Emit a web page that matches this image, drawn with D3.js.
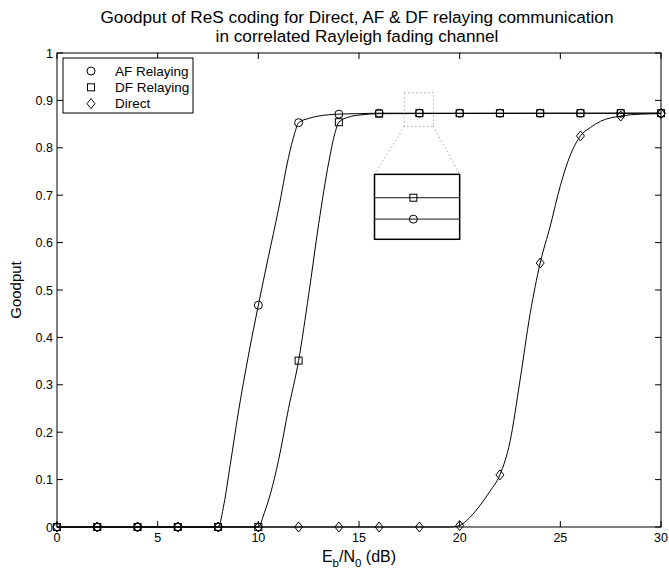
<!DOCTYPE html>
<html><head><meta charset="utf-8">
<script src="https://cdn.jsdelivr.net/npm/d3@7/dist/d3.min.js"></script>
<style>
html,body{margin:0;padding:0;background:#fff;}
svg{display:block;}
text{font-family:"Liberation Sans",Arial,Helvetica,sans-serif;fill:#000;}
</style></head>
<body>
<svg id="chart" width="669" height="571"></svg>
<script>
// ---- data ----
const titleLines = ["Goodput of ReS coding for Direct, AF & DF relaying communication",
                    "in correlated Rayleigh fading channel"];
const seriesNames = ["AF Relaying", "DF Relaying", "Direct"];
const xTicks = [0, 5, 10, 15, 20, 25, 30];
const yTicks = [0, 0.1, 0.2, 0.3, 0.4, 0.5, 0.6, 0.7, 0.8, 0.9, 1];
const yTickLabels = ["0", "0.1", "0.2", "0.3", "0.4", "0.5", "0.6", "0.7", "0.8", "0.9", "1"];

// marker samples (every 2 dB)
const snrMarkers = [0, 2, 4, 6, 8, 10, 12, 14, 16, 18, 20, 22, 24, 26, 28, 30];
const afMarkers = [0, 0, 0, 0, 0, 0.468, 0.853, 0.871, 0.873, 0.873, 0.873, 0.873, 0.873, 0.873, 0.873, 0.873];
const dfMarkers = [0, 0, 0, 0, 0, 0, 0.351, 0.854, 0.872, 0.873, 0.873, 0.873, 0.873, 0.873, 0.873, 0.873];
const directMarkers = [0, 0, 0, 0, 0, 0, 0, 0, 0, 0, 0.003, 0.11, 0.557, 0.825, 0.867, 0.872];

// curve samples
const afCurveSnr = [0, 8, 8.3, 8.6, 9, 9.5, 10, 10.5, 11, 11.5, 11.8, 12, 12.5, 13, 14, 15, 16, 30];
const afCurve    = [0, 0, 0.05, 0.13, 0.24, 0.36, 0.468, 0.57, 0.67, 0.78, 0.83, 0.853, 0.862, 0.867, 0.871, 0.872, 0.873, 0.873];
const dfCurveSnr = [0, 10, 10.3, 10.6, 11, 11.5, 12, 12.5, 13, 13.5, 13.8, 14, 14.5, 15, 16, 30];
const dfCurve    = [0, 0, 0.03, 0.07, 0.14, 0.25, 0.351, 0.49, 0.64, 0.77, 0.83, 0.854, 0.865, 0.869, 0.872, 0.873];
const directCurveSnr = [0, 19.5, 20, 20.5, 21, 21.5, 22, 22.5, 23, 23.5, 24, 24.5, 25, 25.5, 26, 26.5, 27, 28, 29, 30];
const directCurve    = [0, 0, 0.003, 0.02, 0.045, 0.075, 0.11, 0.18, 0.31, 0.45, 0.557, 0.635, 0.72, 0.785, 0.825, 0.843, 0.856, 0.867, 0.871, 0.872];

// zoom annotation (data coords) and magnified inset values
const zoomWindowX = [17.25, 18.7];
const zoomWindowY = [0.845, 0.916];
const insetBoxX = [15.77, 20.0];
const insetBoxY = [0.607, 0.744];
const insetDomain = [0.872, 0.874];
const insetMarkerX = 17.7;
const insetDF = 0.87328;
const insetAF = 0.87262;

// ---- drawing ----
const svg = d3.select("#chart");
const m = {left: 57, right: 661, top: 53, bottom: 527};
const x = d3.scaleLinear().domain([0, 30]).range([m.left, m.right]);
const y = d3.scaleLinear().domain([0, 1]).range([m.bottom, m.top]);

// title
svg.append("g").selectAll("text").data(titleLines).join("text")
  .attr("x", (m.left + m.right) / 2 - 2)
  .attr("y", (d, i) => 22.5 + i * 19.3)
  .attr("text-anchor", "middle")
  .attr("font-size", 17.2)
  .text(d => d);

// curves
const line = d3.line().x(d => x(d[0])).y(d => y(d[1])).curve(d3.curveMonotoneX);
const curves = [
  d3.zip(afCurveSnr, afCurve),
  d3.zip(dfCurveSnr, dfCurve),
  d3.zip(directCurveSnr, directCurve)
];
svg.append("g").selectAll("path").data(curves).join("path")
  .attr("d", line).attr("fill", "none").attr("stroke", "#000").attr("stroke-width", 1);

// markers
const sym = {
  circle: (g, cx, cy) => g.append("circle").attr("cx", cx).attr("cy", cy).attr("r", 4),
  square: (g, cx, cy) => g.append("rect").attr("x", cx - 3.5).attr("y", cy - 3.5).attr("width", 7).attr("height", 7),
  diamond: (g, cx, cy) => g.append("path").attr("d", `M${cx},${cy - 5}L${cx + 4},${cy}L${cx},${cy + 5}L${cx - 4},${cy}Z`)
};
const markerSets = [
  {vals: afMarkers, shape: "circle"},
  {vals: dfMarkers, shape: "square"},
  {vals: directMarkers, shape: "diamond"}
];
const mg = svg.append("g").attr("fill", "none").attr("stroke", "#000").attr("stroke-width", 1);
markerSets.forEach(s => {
  snrMarkers.forEach((v, i) => sym[s.shape](mg, x(v), y(s.vals[i])));
});

// axes box with inward ticks
const ax = svg.append("g");
ax.append("rect").attr("x", m.left).attr("y", m.top)
  .attr("width", m.right - m.left).attr("height", m.bottom - m.top)
  .attr("fill", "none").attr("stroke", "#000").attr("stroke-width", 1);
const tl = 6;
xTicks.forEach(t => {
  ax.append("line").attr("x1", x(t)).attr("x2", x(t)).attr("y1", m.bottom).attr("y2", m.bottom - tl).attr("stroke", "#000");
  ax.append("line").attr("x1", x(t)).attr("x2", x(t)).attr("y1", m.top).attr("y2", m.top + tl).attr("stroke", "#000");
  ax.append("text").attr("x", x(t)).attr("y", m.bottom + 15).attr("text-anchor", "middle")
    .attr("font-size", 12.5).text(t);
});
yTicks.forEach((t, i) => {
  ax.append("line").attr("y1", y(t)).attr("y2", y(t)).attr("x1", m.left).attr("x2", m.left + tl).attr("stroke", "#000");
  ax.append("line").attr("y1", y(t)).attr("y2", y(t)).attr("x1", m.right).attr("x2", m.right - tl).attr("stroke", "#000");
  ax.append("text").attr("x", m.left - 4).attr("y", y(t) + 4.5).attr("text-anchor", "end")
    .attr("font-size", 12.5).text(yTickLabels[i]);
});

// axis labels
const xl = svg.append("text").attr("x", (m.left + m.right) / 2).attr("y", 562)
  .attr("text-anchor", "middle").attr("font-size", 16);
xl.append("tspan").text("E");
xl.append("tspan").attr("font-size", 11.5).attr("dy", 5).text("b");
xl.append("tspan").attr("dy", -5).text("/N");
xl.append("tspan").attr("font-size", 11.5).attr("dy", 5).text("0");
xl.append("tspan").attr("dy", -5).text(" (dB)");
svg.append("text").attr("transform", `translate(21,${(m.top + m.bottom) / 2}) rotate(-90)`)
  .attr("text-anchor", "middle").attr("font-size", 15).text("Goodput");

// zoom annotation
const zg = svg.append("g");
zg.append("rect").attr("x", x(zoomWindowX[0])).attr("y", y(zoomWindowY[1]))
  .attr("width", x(zoomWindowX[1]) - x(zoomWindowX[0])).attr("height", y(zoomWindowY[0]) - y(zoomWindowY[1]))
  .attr("fill", "none").attr("stroke", "#888").attr("stroke-dasharray", "1,3");
zg.append("line").attr("x1", x(zoomWindowX[0])).attr("y1", y(zoomWindowY[0]))
  .attr("x2", x(insetBoxX[0])).attr("y2", y(insetBoxY[1]))
  .attr("stroke", "#888").attr("stroke-dasharray", "1,3");
zg.append("line").attr("x1", x(zoomWindowX[1])).attr("y1", y(zoomWindowY[0]))
  .attr("x2", x(insetBoxX[1])).attr("y2", y(insetBoxY[1]))
  .attr("stroke", "#888").attr("stroke-dasharray", "1,3");
const iy = d3.scaleLinear().domain(insetDomain).range([y(insetBoxY[0]), y(insetBoxY[1])]);
zg.append("rect").attr("x", x(insetBoxX[0])).attr("y", y(insetBoxY[1]))
  .attr("width", x(insetBoxX[1]) - x(insetBoxX[0])).attr("height", y(insetBoxY[0]) - y(insetBoxY[1]))
  .attr("fill", "#fff").attr("stroke", "#000").attr("stroke-width", 1.5);
[insetDF, insetAF].forEach(v => {
  zg.append("line").attr("x1", x(insetBoxX[0])).attr("x2", x(insetBoxX[1]))
    .attr("y1", iy(v)).attr("y2", iy(v)).attr("stroke", "#444").attr("stroke-width", 1.3);
});
const ig = zg.append("g").attr("fill", "none").attr("stroke", "#000");
sym.square(ig, x(insetMarkerX), iy(insetDF));
sym.circle(ig, x(insetMarkerX), iy(insetAF));

// legend
const lg = svg.append("g");
lg.append("rect").attr("x", 63).attr("y", 58).attr("width", 130).attr("height", 55)
  .attr("fill", "#fff").attr("stroke", "#000").attr("stroke-width", 1);
const lshapes = ["circle", "square", "diamond"];
seriesNames.forEach((n, i) => {
  const cy = 71 + i * 16.3;
  const g = lg.append("g").attr("fill", "none").attr("stroke", "#000");
  sym[lshapes[i]](g, 91, cy);
  lg.append("text").attr("x", 115).attr("y", cy + 4.8).attr("font-size", 13.5).text(n);
});
</script>
</body></html>
